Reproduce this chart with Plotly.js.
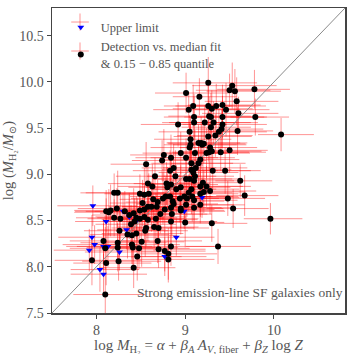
<!DOCTYPE html>
<html>
<head>
<meta charset="utf-8">
<script src="https://cdn.plot.ly/plotly-3.0.1.min.js"></script>
<style>html,body{margin:0;padding:0;background:#fff;}#chart{width:354px;height:354px;}</style>
</head>
<body>
<div id="chart"></div>
<script>
// Detections: predicted (x) vs measured (y) log M_H2
const detX = [9.01,9.26,9.16,9.53,9.50,9.56,9.78,9.58,9.04,9.09,
  9.26,9.30,9.35,9.42,9.46,9.60,9.10,9.27,9.29,9.42,
  9.79,8.92,9.10,9.22,9.29,9.42,9.41,9.38,9.34,9.26,
  9.05,9.06,9.06,9.05,9.15,9.18,9.19,9.21,9.28,9.27,
  9.24,9.30,9.50,9.40,9.59,10.08,8.95,9.11,9.01,8.76,
  8.74,9.17,9.15,9.07,9.12,9.07,9.09,9.31,9.45,8.83,
  8.87,8.56,8.66,8.89,9.01,9.11,9.05,8.79,8.84,8.58,
  8.63,9.10,9.20,9.24,9.17,9.62,9.67,9.48,9.54,9.28,
  9.21,9.07,9.04,8.95,8.90,8.80,8.75,8.78,8.83,8.86,
  8.87,8.94,8.99,9.02,9.08,9.10,9.17,9.01,8.95,8.84,
  9.10,9.17,8.64,8.59,8.54,8.49,8.52,8.58,8.62,8.68,
  8.69,8.54,8.49,8.54,8.72,8.77,8.85,8.95,9.00,8.84,
  8.70,8.65,8.56,8.55,8.45,8.43,8.39,8.42,8.37,8.32,
  8.27,8.20,8.14,8.11,8.16,8.20,8.24,8.23,8.26,8.40,
  8.45,8.35,8.58,8.49,8.67,9.96,9.30,8.08,8.24,8.24,
  8.40,8.41,8.48,8.51,8.70,8.69,8.77,8.81,8.84,8.81,
  9.37,8.10,8.46,8.42,7.95,8.11,8.25,8.10,9.32,8.84];
const detY = [9.88,9.99,9.84,9.96,9.91,9.90,9.92,9.79,9.70,9.74,
  9.74,9.71,9.74,9.75,9.70,9.66,9.62,9.63,9.62,9.62,
  9.62,9.54,9.56,9.56,9.51,9.54,9.49,9.46,9.42,9.41,
  9.46,9.38,9.32,9.29,9.34,9.34,9.32,9.33,9.29,9.24,
  9.23,9.25,9.26,9.24,9.47,9.43,9.23,9.23,9.18,9.21,
  9.15,9.16,9.12,9.12,9.07,9.05,9.02,9.04,9.04,9.04,
  9.07,9.11,8.98,8.98,8.95,8.98,8.95,8.90,8.89,8.90,
  8.87,8.93,8.91,8.87,8.87,8.93,8.77,8.74,8.63,8.82,
  8.81,8.84,8.80,8.86,8.84,8.86,8.74,8.76,8.76,8.71,
  8.68,8.74,8.76,8.74,8.76,8.72,8.79,8.67,8.63,8.64,
  8.64,8.67,8.73,8.79,8.78,8.79,8.69,8.65,8.65,8.65,
  8.70,8.62,8.61,8.54,8.57,8.62,8.57,8.61,8.48,8.49,
  8.42,8.43,8.42,8.39,8.53,8.49,8.46,8.58,8.56,8.60,
  8.52,8.53,8.59,8.60,8.61,8.80,8.80,8.63,8.39,8.34,
  8.36,8.35,8.51,8.52,8.52,8.52,8.47,8.28,8.26,8.21,
  8.24,8.21,8.20,8.27,8.19,8.28,8.17,8.14,8.22,8.08,
  8.22,8.20,8.11,7.99,8.07,8.04,8.06,7.70,9.56,9.18];
// 0.15 / 0.85 quantile offsets of the fit (x) and measurement errors (y)
const detXlo = [0.35,0.40,0.30,0.45,0.38,0.32,0.42,0.36,0.40,0.33,
  0.37,0.44,0.31,0.39,0.35,0.41,0.34,0.46,0.30,0.38,
  0.28,0.42,0.36,0.40,0.33,0.45,0.37,0.31,0.43,0.39,
  0.35,0.41,0.30,0.44,0.36,0.38,0.32,0.40,0.34,0.42,
  0.37,0.33,0.39,0.35,0.30,0.26,0.43,0.36,0.40,0.38,
  0.34,0.41,0.31,0.45,0.37,0.33,0.39,0.35,0.30,0.42,
  0.36,0.40,0.44,0.32,0.38,0.35,0.41,0.37,0.33,0.45,
  0.39,0.36,0.30,0.42,0.34,0.28,0.32,0.35,0.30,0.40,
  0.37,0.43,0.35,0.39,0.31,0.44,0.36,0.40,0.33,0.38,
  0.42,0.35,0.41,0.37,0.32,0.45,0.39,0.34,0.40,0.36,
  0.43,0.31,0.38,0.42,0.35,0.40,0.37,0.44,0.33,0.39,
  0.36,0.41,0.34,0.45,0.38,0.32,0.40,0.36,0.43,0.37,
  0.35,0.41,0.39,0.33,0.44,0.36,0.40,0.38,0.42,0.34,
  0.37,0.43,0.39,0.35,0.41,0.38,0.36,0.44,0.40,0.33,
  0.39,0.42,0.36,0.40,0.35,0.30,0.28,0.38,0.42,0.35,
  0.40,0.37,0.33,0.44,0.36,0.41,0.38,0.34,0.43,0.37,
  0.36,0.40,0.35,0.39,0.42,0.37,0.41,0.36,0.38,0.40];
const detXhi = [0.48,0.55,0.42,0.50,0.46,0.52,0.40,0.47,0.58,0.44,
  0.51,0.46,0.56,0.43,0.49,0.45,0.53,0.47,0.60,0.50,
  0.38,0.55,0.48,0.52,0.45,0.50,0.47,0.54,0.42,0.49,
  0.57,0.46,0.52,0.48,0.55,0.44,0.50,0.47,0.53,0.45,
  0.49,0.56,0.43,0.51,0.40,0.37,0.52,0.48,0.55,0.46,
  0.50,0.44,0.53,0.47,0.58,0.45,0.51,0.43,0.40,0.54,
  0.48,0.56,0.50,0.46,0.52,0.44,0.57,0.49,0.53,0.47,
  0.55,0.45,0.41,0.50,0.48,0.36,0.38,0.42,0.40,0.52,
  0.47,0.54,0.49,0.56,0.45,0.51,0.48,0.53,0.46,0.58,
  0.50,0.44,0.55,0.47,0.52,0.49,0.43,0.54,0.48,0.57,
  0.45,0.50,0.53,0.47,0.56,0.49,0.52,0.46,0.58,0.50,
  0.48,0.55,0.51,0.47,0.53,0.56,0.45,0.49,0.44,0.52,
  0.57,0.50,0.54,0.48,0.46,0.53,0.51,0.55,0.47,0.52,
  0.49,0.56,0.50,0.54,0.47,0.58,0.52,0.48,0.55,0.51,
  0.53,0.47,0.56,0.50,0.48,0.36,0.40,0.52,0.55,0.49,
  0.54,0.51,0.57,0.48,0.53,0.50,0.46,0.55,0.49,0.52,
  0.37,0.54,0.50,0.47,0.56,0.51,0.48,0.45,0.50,0.53];
const detYerr = [0.22,0.28,0.20,0.25,0.18,0.24,0.21,0.26,0.19,0.23,
  0.27,0.20,0.24,0.22,0.29,0.18,0.25,0.21,0.26,0.23,
  0.20,0.24,0.28,0.19,0.22,0.26,0.21,0.25,0.23,0.27,
  0.18,0.24,0.22,0.26,0.20,0.28,0.23,0.21,0.25,0.19,
  0.27,0.22,0.24,0.20,0.26,0.18,0.23,0.25,0.21,0.28,
  0.22,0.19,0.26,0.24,0.20,0.27,0.23,0.21,0.25,0.22,
  0.26,0.24,0.20,0.28,0.22,0.19,0.25,0.23,0.27,0.21,
  0.24,0.20,0.26,0.22,0.28,0.18,0.22,0.19,0.21,0.25,
  0.23,0.27,0.20,0.24,0.26,0.22,0.28,0.21,0.25,0.23,
  0.19,0.26,0.24,0.20,0.27,0.22,0.25,0.21,0.28,0.23,
  0.24,0.20,0.26,0.22,0.29,0.21,0.25,0.23,0.27,0.20,
  0.24,0.26,0.22,0.28,0.21,0.25,0.23,0.19,0.27,0.24,
  0.22,0.26,0.20,0.28,0.23,0.25,0.21,0.27,0.24,0.22,
  0.26,0.20,0.25,0.23,0.28,0.21,0.24,0.22,0.27,0.25,
  0.20,0.26,0.23,0.21,0.28,0.17,0.20,0.24,0.22,0.26,
  0.21,0.25,0.23,0.27,0.20,0.24,0.22,0.28,0.21,0.25,
  0.19,0.23,0.26,0.22,0.27,0.24,0.21,0.30,0.23,0.25];
// Upper limits
const ulX = [7.96,8.11,8.30,8.37,8.34,8.46,8.99,9.19,7.95,8.90,
  7.92,7.98,8.08,8.13,8.26,8.04,8.08,8.77];
const ulY = [8.66,8.49,8.60,8.54,8.40,8.51,8.60,8.75,8.32,8.32,
  8.18,8.24,8.22,8.22,8.16,7.97,7.92,8.11];
const ulXlo = [0.40,0.35,0.42,0.38,0.33,0.40,0.36,0.30,0.38,0.34,
  0.40,0.36,0.42,0.35,0.39,0.33,0.37,0.35];
const ulXhi = [0.50,0.45,0.52,0.48,0.44,0.50,0.46,0.42,0.47,0.43,
  0.52,0.48,0.45,0.50,0.46,0.44,0.49,0.47];
const ulYerr = [0.22,0.25,0.20,0.24,0.21,0.23,0.19,0.22,0.24,0.20,
  0.23,0.21,0.25,0.22,0.20,0.24,0.22,0.21];
const oneToOne = [7.5, 10.8];
const axisRange = [7.5, 10.8];
const yTicks = [7.5, 8.0, 8.5, 9.0, 9.5, 10.0, 10.5];
const yTickText = ['7.5','8.0','8.5','9.0','9.5','10.0','10.5'];
const xTicks = [8, 9, 10];
const xTickText = ['8','9','10'];
const xTitle = 'log <i>M</i><sub>H₂</sub> = <i>α</i> + <i>β<sub>A</sub> A</i><sub><i>V</i>, fiber</sub> + <i>β<sub>Z</sub></i> log <i>Z</i>';
const yTitle = 'log (<i>M</i><sub>H₂</sub>/<i>M</i><sub>⊙</sub>)';
const note = 'Strong emission-line SF galaxies only';

const FONT = 'Liberation Serif, DejaVu Serif, serif';
const errCol = 'rgba(255,0,0,0.42)';
function errs(lo, hi, ye) {
  return {
    error_x: {type:'data', symmetric:false, array:hi, arrayminus:lo, color:errCol, thickness:1, width:0},
    error_y: {type:'data', array:ye, color:errCol, thickness:1, width:0}
  };
}
const traces = [
  Object.assign({x:ulX, y:ulY, type:'scatter', mode:'markers', marker:{size:6, opacity:0}, showlegend:false, hoverinfo:'skip'}, errs(ulXlo, ulXhi, ulYerr)),
  Object.assign({x:detX, y:detY, type:'scatter', mode:'markers', marker:{size:6, opacity:0}, showlegend:false, hoverinfo:'skip'}, errs(detXlo, detXhi, detYerr)),
  {x:oneToOne, y:oneToOne, type:'scatter', mode:'lines', line:{color:'#8a8a8a', width:1}, showlegend:false, hoverinfo:'skip'},
  {x:ulX, y:ulY, type:'scatter', mode:'markers', name:'Upper limit',
   marker:{symbol:'triangle-down', size:6, color:'#0000ff'}},
  {x:detX, y:detY, type:'scatter', mode:'markers', name:'Detection vs. median fit<br>&amp; 0.15 − 0.85 quantile',
   marker:{symbol:'circle', size:6, color:'#000000'}}
];
// legend error-bar crosses (paper coordinates, decoration only)
const legendCross = [[0.0956, 0.954], [0.0956, 0.859]];
const shapes = [];
legendCross.forEach(function(c){
  shapes.push({type:'line', xref:'paper', yref:'paper', x0:c[0]-0.03, x1:c[0]+0.03, y0:c[1], y1:c[1], line:{color:errCol, width:1}, layer:'above'});
  shapes.push({type:'line', xref:'paper', yref:'paper', x0:c[0], x1:c[0], y0:c[1]-0.028, y1:c[1]+0.028, line:{color:errCol, width:1}, layer:'above'});
});
const layout = {
  width:354, height:354,
  margin:{l:52, r:9, t:8, b:41},
  paper_bgcolor:'#fff', plot_bgcolor:'#fff',
  font:{family:FONT, color:'#555', size:13},
  showlegend:true,
  legend:{x:0.03, y:0.985, xanchor:'left', yanchor:'top', bgcolor:'rgba(0,0,0,0)',
          font:{family:FONT, size:12.5, color:'#555'}, itemwidth:30, tracegroupgap:2},
  shapes:shapes,
  xaxis:{range:axisRange, tickvals:xTicks, ticktext:xTickText, ticks:'outside', ticklen:4, tickcolor:'#444',
         showline:true, mirror:true, linecolor:'#444', linewidth:1.5, showgrid:false, zeroline:false,
         tickfont:{family:FONT, size:14, color:'#555'}},
  yaxis:{range:axisRange, tickvals:yTicks, ticktext:yTickText, ticks:'outside', ticklen:4, tickcolor:'#444',
         showline:true, mirror:true, linecolor:'#444', linewidth:1.5, showgrid:false, zeroline:false,
         tickfont:{family:FONT, size:14, color:'#555'},
         title:{text:yTitle, font:{family:FONT, size:14.5, color:'#555'}, standoff:6}},
  annotations:[
    {xref:'paper', yref:'paper', x:1.0, y:0.035, xanchor:'right', yanchor:'bottom', showarrow:false,
     text:note, font:{family:FONT, size:13.5, color:'#555'}},
    {xref:'paper', yref:'paper', x:0.5, y:-0.072, xanchor:'center', yanchor:'top', showarrow:false,
     text:xTitle, font:{family:FONT, size:15, color:'#555'}}
  ]
};
Plotly.newPlot('chart', traces, layout, {staticPlot:true, displayModeBar:false});
</script>
</body>
</html>
